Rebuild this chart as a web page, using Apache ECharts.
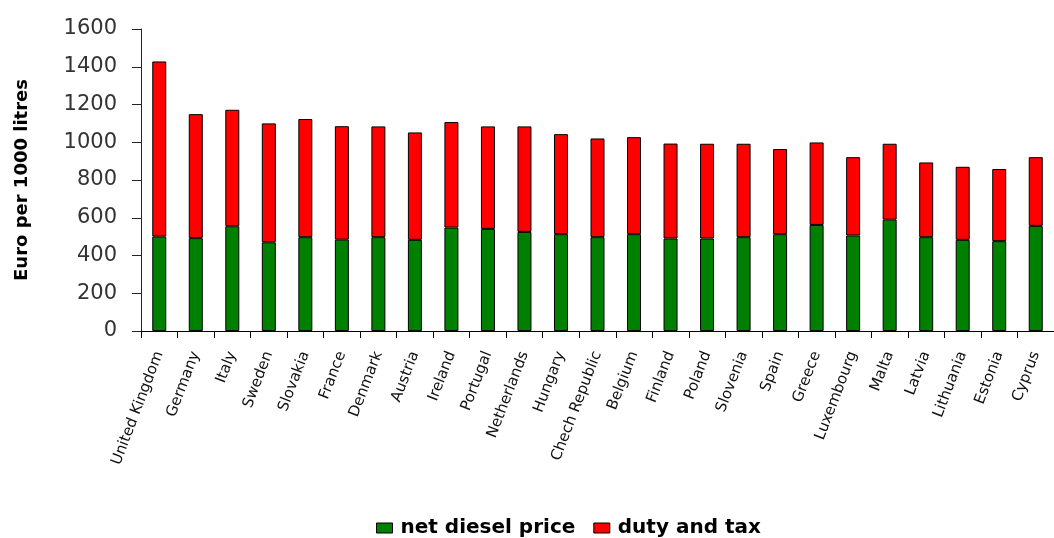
<!DOCTYPE html>
<html>
<head>
<meta charset="utf-8">
<script src="https://cdn.jsdelivr.net/npm/echarts@6/dist/echarts.min.js"></script>
<style>
  html, body { margin: 0; padding: 0; background: #fff; }
  #chart { width: 1054px; height: 538px; }
</style>
</head>
<body>
<div id="chart"></div>
<script>
// Diesel price per 1000 litres, split into net price and duty/tax
const countries = ['United Kingdom', 'Germany', 'Italy', 'Sweden', 'Slovakia', 'France', 'Denmark',
  'Austria', 'Ireland', 'Portugal', 'Netherlands', 'Hungary', 'Chech Republic', 'Belgium', 'Finland',
  'Poland', 'Slovenia', 'Spain', 'Greece', 'Luxembourg', 'Malta', 'Latvia', 'Lithuania', 'Estonia', 'Cyprus'];

const netDieselPrice = [500, 492, 555, 470, 497, 484, 497, 483, 548, 541, 525, 513, 497, 513, 490,
  490, 497, 513, 562, 506, 590, 497, 483, 476, 557];

const dutyAndTax = [928, 657, 617, 630, 626, 601, 587, 569, 559, 543, 559, 530, 523, 514, 503,
  502, 495, 451, 437, 415, 402, 396, 387, 382, 364];

const yTicks = { min: 0, max: 1600, interval: 200 };

const font = 'DejaVu Sans';
const chart = echarts.init(document.getElementById('chart'), null, { renderer: 'canvas' });

chart.setOption({
  animation: false,
  backgroundColor: '#fff',
  grid: { left: 141, top: 29, bottom: 207, right: -9.5, containLabel: false },
  legend: {
    top: 513,
    left: 371,
    itemWidth: 16,
    itemHeight: 10,
    itemGap: 18,
    icon: 'rect',
    itemStyle: { borderColor: '#000', borderWidth: 1 },
    textStyle: { fontFamily: font, fontWeight: 'bold', fontSize: 20, color: '#000', padding: [0, 0, 0, 3] },
    data: ['net diesel price', 'duty and tax']
  },
  xAxis: {
    type: 'category',
    data: countries,
    axisLine: { lineStyle: { color: '#000', width: 1 } },
    axisTick: { show: true, length: 7, lineStyle: { color: '#000' } },
    axisLabel: {
      rotate: 69,
      interval: 0,
      margin: 21,
      fontFamily: font,
      fontSize: 15,
      color: '#111'
    }
  },
  yAxis: {
    type: 'value',
    min: yTicks.min,
    max: yTicks.max,
    interval: yTicks.interval,
    name: 'Euro per 1000 litres',
    nameLocation: 'middle',
    nameGap: 110,
    nameRotate: 90,
    nameTextStyle: { fontFamily: font, fontWeight: 'bold', fontSize: 18, color: '#000' },
    splitLine: { show: false },
    axisLine: { show: true, lineStyle: { color: '#222', width: 1 } },
    axisTick: { show: true, length: 9, lineStyle: { color: '#222' } },
    axisLabel: {
      margin: 24,
      fontFamily: font,
      fontSize: 21,
      color: '#333',
      formatter: v => String(v)
    }
  },
  series: [
    {
      name: 'net diesel price',
      type: 'bar',
      stack: 'total',
      barWidth: 14,
      data: netDieselPrice,
      itemStyle: { color: '#008000', borderColor: '#000', borderWidth: 1 }
    },
    {
      name: 'duty and tax',
      type: 'bar',
      stack: 'total',
      barWidth: 14,
      data: dutyAndTax,
      itemStyle: { color: '#ff0000', borderColor: '#000', borderWidth: 1 }
    }
  ]
});
</script>
</body>
</html>
